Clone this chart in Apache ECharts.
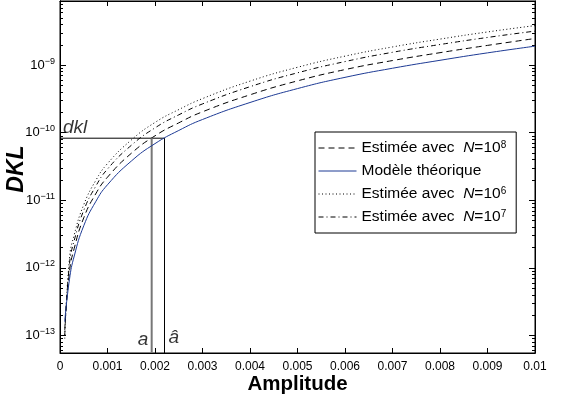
<!DOCTYPE html>
<html>
<head>
<meta charset="utf-8">
<script src="https://cdn.jsdelivr.net/npm/echarts@6/dist/echarts.min.js"></script>
<style>
  html, body { margin: 0; padding: 0; background: #fff; }
  #main { width: 576px; height: 398px; }
</style>
</head>
<body>
<div id="main"></div>
<script>
// amplitude values (x)
const amplitude = [0.0001, 0.0002, 0.0003, 0.0005, 0.00075, 0.001, 0.0015, 0.002, 0.0025, 0.003,
                   0.004, 0.005, 0.006, 0.007, 0.008, 0.009, 0.01];
// DKL
const theorique = [1.6e-13, 6.8e-13, 1.5e-12, 4.2e-12, 9.5e-12, 1.7e-11, 3.8e-11, 6.9e-11, 1.08e-10, 1.57e-10,
                   2.8e-10, 4.5e-10, 6.6e-10, 9.0e-10, 1.18e-9, 1.52e-9, 1.91e-9];
const estN8 = [1.2e-13, 8.8e-13, 1.95e-12, 5.5e-12, 1.24e-11, 2.2e-11, 4.95e-11, 9.0e-11, 1.4e-10, 2.04e-10,
               3.64e-10, 5.85e-10, 8.6e-10, 1.17e-9, 1.53e-9, 1.96e-9, 2.48e-9];
const estN7 = [1.0e-13, 1.15e-12, 2.55e-12, 7.1e-12, 1.6e-11, 2.9e-11, 6.5e-11, 1.18e-10, 1.84e-10, 2.67e-10,
               4.8e-10, 7.7e-10, 1.13e-9, 1.55e-9, 2.02e-9, 2.57e-9, 3.19e-9];
const estN6 = [0.9e-13, 1.4e-12, 3.1e-12, 8.6e-12, 1.95e-11, 3.5e-11, 7.8e-11, 1.42e-10, 2.2e-10, 3.2e-10,
               5.8e-10, 9.3e-10, 1.36e-9, 1.86e-9, 2.43e-9, 3.1e-9, 3.85e-9];

// annotation values
const dkl = 8.3e-11;
const aVal = 0.00193;
const aHat = 0.0022;

// axis ranges and ticks
const yMin = 5.5e-14;
const yMax = 8.9e-9;
const majorTicks = [1e-13, 1e-12, 1e-11, 1e-10, 1e-9];
const minorMult = [2, 3, 4, 5, 6, 7, 8, 9];
const decades = [1e-14, 1e-13, 1e-12, 1e-11, 1e-10, 1e-9];

const minorTicks = [];
decades.forEach(d => minorMult.forEach(m => {
    const v = d * m;
    if (v > yMin && v < yMax) minorTicks.push(v);
}));

const pairs = ys => amplitude.map((a, i) => [a, ys[i]]);

const legendText = {
    N8: 'Estimée avec  {i|N}=10{s|8}',
    th: 'Modèle théorique',
    N6: 'Estimée avec  {i|N}=10{s|6}',
    N7: 'Estimée avec  {i|N}=10{s|7}'
};

const font = 'Liberation Sans, Arial, sans-serif';

function yAxisOf(position, ticks, len, withLabel) {
    return {
        type: 'log',
        position,
        min: yMin,
        max: yMax,
        axisLine: { show: true, lineStyle: { color: '#000', width: 1 } },
        axisTick: { show: true, inside: true, length: len, customValues: ticks, lineStyle: { color: '#000' } },
        axisLabel: withLabel ? {
            show: true,
            customValues: majorTicks,
            margin: 5,
            fontFamily: font,
            formatter: v => '{b|10}{s|−' + Math.round(-Math.log10(v)) + '}',
            rich: {
                b: { fontSize: 13, fontFamily: font, color: '#000' },
                s: { fontSize: 9, fontFamily: font, color: '#000', verticalAlign: 'top', padding: [0, 0, 8, 0] }
            }
        } : { show: false },
        splitLine: { show: false },
        name: withLabel ? 'DKL' : '',
        nameLocation: 'middle',
        nameGap: 32,
        nameMoveOverlap: false,
        nameTextStyle: {
            fontFamily: font, fontSize: 23, fontWeight: 'bold', fontStyle: 'italic', color: '#000',
            padding: [0, 0, 0, 16]
        }
    };
}

const chart = echarts.init(document.getElementById('main'));

chart.setOption({
    animation: false,
    grid: {
        left: 60, right: 41, top: 1, bottom: 45,
        outerBoundsMode: 'none',
        show: true, borderColor: '#000', borderWidth: 1
    },
    legend: {
        left: 315,
        top: 132,
        orient: 'vertical',
        data: ['N8', 'th', 'N6', 'N7'],
        itemWidth: 38,
        itemHeight: 16,
        itemGap: 7,
        padding: [8, 10, 8, 3],
        borderColor: '#000',
        borderWidth: 1,
        borderRadius: 0,
        backgroundColor: '#fff',
        itemStyle: { opacity: 0 },
        lineStyle: { width: 1 },
        formatter: name => legendText[name],
        textStyle: {
            fontFamily: font,
            fontSize: 15.5,
            color: '#000',
            lineHeight: 16,
            rich: {
                i: { fontFamily: font, fontSize: 15.5, fontStyle: 'italic', color: '#000', lineHeight: 16 },
                s: { fontFamily: font, fontSize: 10, color: '#000', verticalAlign: 'top', padding: [0, 0, 9, 0] }
            }
        }
    },
    xAxis: [
        {
            type: 'value',
            position: 'bottom',
            min: 0,
            max: 0.01,
            interval: 0.001,
            axisLine: { show: true, onZero: false, lineStyle: { color: '#000' } },
            axisTick: { show: true, inside: true, length: 5, lineStyle: { color: '#000' } },
            axisLabel: { fontFamily: font, fontSize: 12, color: '#000', margin: 8 },
            splitLine: { show: false },
            name: 'Amplitude',
            nameLocation: 'middle',
            nameGap: 21,
            nameMoveOverlap: false,
            nameTextStyle: { fontFamily: font, fontSize: 20.5, fontWeight: 'bold', color: '#000' }
        },
        {
            type: 'value',
            position: 'top',
            min: 0,
            max: 0.01,
            interval: 0.001,
            axisLine: { show: true, onZero: false, lineStyle: { color: '#000' } },
            axisTick: { show: true, inside: true, length: 5, lineStyle: { color: '#000' } },
            axisLabel: { show: false },
            splitLine: { show: false }
        }
    ],
    yAxis: [
        yAxisOf('left', majorTicks, 6, true),
        yAxisOf('left', minorTicks, 3, false),
        yAxisOf('right', majorTicks, 6, false),
        yAxisOf('right', minorTicks, 3, false)
    ],
    series: [
        {
            name: 'th', type: 'line', data: pairs(theorique), smooth: true, symbol: 'none',
            lineStyle: { color: '#1d3a94', width: 1 }, itemStyle: { color: '#1d3a94' }, z: 5
        },
        {
            name: 'N8', type: 'line', data: pairs(estN8), smooth: true, symbol: 'none',
            lineStyle: { color: '#000', width: 1, type: [6, 4] }, itemStyle: { color: '#000' }
        },
        {
            name: 'N6', type: 'line', data: pairs(estN6), smooth: true, symbol: 'none',
            lineStyle: { color: '#000', width: 1, type: [1, 2.5] }, itemStyle: { color: '#000' }
        },
        {
            name: 'N7', type: 'line', data: pairs(estN7), smooth: true, symbol: 'none',
            lineStyle: { color: '#000', width: 1, type: [5, 3, 1, 3] }, itemStyle: { color: '#000' }
        },
        // dkl horizontal line up to a-hat
        {
            type: 'line', data: [[0, dkl], [aHat, dkl]], symbol: 'none', silent: true,
            lineStyle: { color: '#000', width: 1 }
        },
        // vertical line at a
        {
            type: 'line', data: [[aVal, dkl], [aVal, yMin]], symbol: 'none', silent: true,
            lineStyle: { color: '#777', width: 2 }
        },
        // vertical line at a-hat
        {
            type: 'line', data: [[aHat, dkl], [aHat, yMin]], symbol: 'none', silent: true,
            lineStyle: { color: '#000', width: 1 }
        },
        // text annotations
        {
            type: 'scatter', symbolSize: 0, silent: true,
            data: [
                { value: [0, dkl], label: { formatter: 'dkl', position: [3, -20] } },
                { value: [aVal, yMin], label: { formatter: 'a', position: [-14, -23] } },
                { value: [aHat, yMin], label: { formatter: 'â', position: [4, -25] } }
            ],
            label: { show: true, fontFamily: font, fontSize: 19, fontStyle: 'italic', color: '#000' }
        }
    ]
});
</script>
</body>
</html>
